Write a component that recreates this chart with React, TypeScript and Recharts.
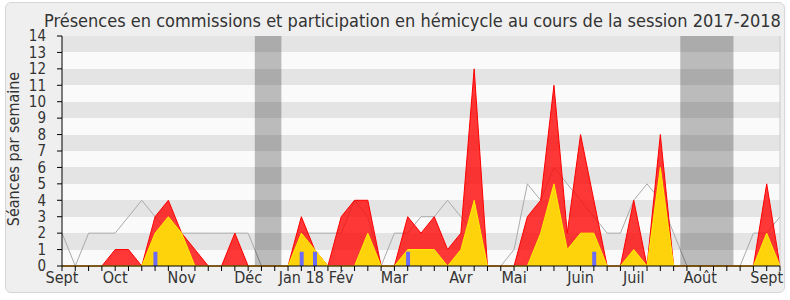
import React from 'react';
import {
  ComposedChart,
  Area,
  Line,
  Bar,
  XAxis,
  YAxis,
  CartesianGrid,
  ReferenceArea,
  ReferenceLine,
} from 'recharts';

const TITLE = 'Présences en commissions et participation en hémicycle au cours de la session 2017-2018';
const Y_LABEL = 'Séances par semaine';

// month labels and the week index where they are shown
const monthLabels = ['Sept', 'Oct', 'Nov', 'Déc', 'Jan 18', 'Fév', 'Mar', 'Avr', 'Mai', 'Juin', 'Juil', 'Août', 'Sept'];
const monthWeeks = [0, 4, 9, 14, 18, 21, 25, 30, 34, 39, 43, 48, 53];

// weekly values (55 weeks)
const presenceTotal = [
  0, 0, 0, 0, 1, 1, 0, 3, 4, 2, 1, 0, 0, 2, 0, 0, 0, 0, 3, 1, 0, 3, 4, 4, 0, 0, 3, 2, 3, 1, 2, 12, 0, 0, 0, 3, 4,
  11, 2, 8, 4, 0, 0, 4, 0, 8, 0, 0, 0, 0, 0, 0, 0, 5, 0,
];
const presenceCommission = [
  0, 0, 0, 0, 0, 0, 0, 2, 3, 2, 0, 0, 0, 0, 0, 0, 0, 0, 2, 1, 0, 0, 0, 2, 0, 0, 1, 1, 1, 0, 1, 4, 0, 0, 0, 0, 2,
  5, 1, 2, 2, 0, 0, 1, 0, 6, 0, 0, 0, 0, 0, 0, 0, 2, 0,
];
const medianDeputes = [
  2, 0, 2, 2, 2, 3, 4, 3, 2, 2, 2, 2, 2, 2, 2, 0, 0, 0, 2, 2, 2, 2, 4, 3, 0, 2, 2, 3, 3, 4, 3, 2, 0, 0, 1, 5, 4,
  6, 5, 4, 3, 2, 2, 4, 5, 4, 2, 0, 0, 0, 0, 0, 2, 2, 3,
];
const questionsOrales = [
  0, 0, 0, 0, 0, 0, 0, 0.87, 0, 0, 0, 0, 0, 0, 0, 0, 0, 0, 0.87, 0.87, 0, 0, 0, 0, 0, 0, 0.87, 0, 0, 0, 0, 0, 0,
  0, 0, 0, 0, 0, 0, 0, 0.87, 0, 0, 0, 0, 0, 0, 0, 0, 0, 0, 0, 0, 0, 0,
];
const holidayStart = [15, 47];
const holidayEnd = [16, 50];
const yTicks = [0, 1, 2, 3, 4, 5, 6, 7, 8, 9, 10, 11, 12, 13, 14];

const FONT = "'DejaVu Sans Condensed', 'DejaVu Sans', sans-serif";
const TEXT = '#333333';

const weeks = presenceTotal.map((_, i) => i);
const data = weeks.map((w) => ({
  w,
  total: presenceTotal[w],
  com: presenceCommission[w],
  med: medianDeputes[w],
  q: questionsOrales[w],
}));

const monthFor = (v: number) => {
  const k = monthWeeks.indexOf(v);
  return k >= 0 ? monthLabels[k] : '';
};

export default function App() {
  return (
    <div
      style={{
        position: 'absolute',
        left: 0,
        top: 0,
        width: 790,
        height: 300,
        fontFamily: FONT,
        fontStretch: 'condensed',
      }}
    >
      <div
        style={{
          position: 'absolute',
          left: 5,
          top: 2,
          width: 778,
          height: 289,
          border: '1px solid #d6d6d6',
          borderRadius: 6,
          background: '#efefef',
        }}
      />
      <svg style={{ position: 'absolute', left: 0, top: 0 }} width={790} height={300}>
        <text x={44} y={27} fontSize={18} fill={TEXT} fontFamily={FONT}>
          {TITLE}
        </text>
        <text
          transform="translate(19,149) rotate(-90)"
          textAnchor="middle"
          fontSize={16}
          fill={TEXT}
          fontFamily={FONT}
        >
          {Y_LABEL}
        </text>
      </svg>
      <div style={{ position: 'absolute', left: 0, top: 0 }}>
        <ComposedChart width={790} height={300} data={data} margin={{ top: 35, right: 10, bottom: 4, left: 0 }}>
          <CartesianGrid vertical={false} stroke="none" horizontalFill={['#e4e4e4', '#fafafa']} />
          <XAxis
            dataKey="w"
            type="number"
            domain={[0, 54]}
            ticks={weeks}
            interval={0}
            tickFormatter={monthFor}
            tickSize={5}
            tickMargin={1}
            stroke="#000"
            height={30}
            tick={{ fontSize: 16, fill: TEXT, fontFamily: FONT }}
          />
          <XAxis
            xAxisId="top"
            orientation="top"
            dataKey="w"
            type="number"
            domain={[0, 54]}
            ticks={weeks}
            interval={0}
            tickSize={2}
            axisLine={false}
            tick={false}
            height={1}
            stroke="#444"
          />
          <YAxis
            type="number"
            domain={[0, 14]}
            ticks={yTicks}
            interval={0}
            width={62}
            tickSize={5}
            tickMargin={11}
            stroke="#000"
            tick={{ fontSize: 15, fill: TEXT, fontFamily: FONT }}
          />
          {holidayStart.map((s, k) => (
            <ReferenceArea
              key={k}
              x1={s - 0.5}
              x2={holidayEnd[k] + 0.5}
              y1={0}
              y2={14}
              fill="#000"
              fillOpacity={0.25}
              stroke="none"
            />
          ))}
          <ReferenceLine x={54} stroke="#cccccc" />
          <Line
            dataKey="med"
            type="linear"
            stroke="#aaaaaa"
            strokeWidth={1}
            dot={false}
            isAnimationActive={false}
            zIndex={90}
          />
          <Area
            dataKey="total"
            type="linear"
            stroke="#ff0000"
            strokeWidth={1}
            fill="#ff0000"
            fillOpacity={0.78}
            isAnimationActive={false}
            zIndex={100}
          />
          <Area
            dataKey="com"
            type="linear"
            stroke="#ffee00"
            strokeWidth={1}
            fill="#ffd30c"
            fillOpacity={1}
            isAnimationActive={false}
            zIndex={110}
          />
          <Bar dataKey="q" fill="#6b6bf5" barSize={4} isAnimationActive={false} zIndex={120} />
        </ComposedChart>
      </div>
    </div>
  );
}
